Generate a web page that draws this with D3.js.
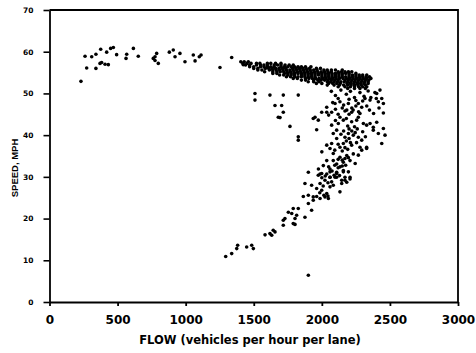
<!DOCTYPE html>
<html>
<head>
<meta charset="utf-8">
<script src="https://cdn.jsdelivr.net/npm/d3@7/dist/d3.min.js"></script>
<style>
  html, body { margin: 0; padding: 0; background: #fff; }
  svg { display: block; }
  .tick text { font-family: "DejaVu Sans", sans-serif; font-weight: bold; fill: #000; }
</style>
</head>
<body>
<svg id="chart" width="476" height="353"></svg>
<script>
// Speed-flow observations, [flow (veh/h/lane), speed (mph)]

// Uncongested, light-flow observations
const freeFlow = [
  [261,58.9],[231,52.9],[273,56.1],[310,58.8],[341,59.4],[341,56.0],[371,57.2],[383,57.4],
  [408,57.0],[432,56.9],[376,60.6],[420,59.9],[449,60.8],[469,61.0],[493,59.3],[567,59.4],
  [562,58.4],[616,60.8],[652,58.9],[775,58.8],[787,59.6],[762,58.4],[799,57.2],[775,57.9],
  [880,59.9],[909,60.4],[922,58.8],[958,59.6],[995,57.6],[1056,59.2],[1069,57.8],[1113,59.2],
  [1100,58.8],[1252,56.2],[1338,58.6],[1423,56.9],[1509,50.0],[1509,48.4]
];

// Near-capacity band: each row is [speed, flows observed at that speed]
const capacityRows = [
  [57.6, [1405,1430,1460]],
  [57.2, [1420,1450,1480,1520,1545,1600,1625,1660,1700]],
  [56.8, [1440,1470,1520,1550,1575,1600,1650,1675,1700,1730,1760,1790]],
  [56.4, [1470,1500,1550,1575,1600,1625,1650,1700,1725,1750,1775,1800,1825,1850,1880,1920]],
  [56.0, [1500,1530,1585,1610,1635,1660,1685,1710,1735,1785,1810,1835,1860,1885,1910,1960,1990]],
  [55.6, [1530,1560,1615,1640,1665,1690,1715,1740,1765,1790,1815,1840,1865,1890,1915,1940,1965,2015,2040,2070,2100,2150]],
  [55.2, [1580,1640,1670,1695,1720,1745,1770,1795,1820,1845,1870,1895,1920,1945,1970,1995,2020,2045,2070,2120,2145,2170,2195,2220]],
  [54.8, [1640,1670,1725,1750,1775,1800,1825,1850,1875,1900,1925,1950,1975,2000,2025,2050,2075,2100,2125,2150,2175,2200,2250]],
  [54.4, [1690,1720,1750,1775,1800,1850,1875,1900,1925,1950,1975,2000,2025,2050,2075,2100,2125,2150,2200,2225,2250,2275,2300,2330]],
  [54.0, [1740,1770,1800,1825,1850,1875,1900,1925,1950,2000,2025,2050,2075,2100,2125,2150,2175,2200,2225,2250,2275,2300,2325,2350]],
  [53.6, [1790,1820,1880,1905,1930,1955,1980,2005,2030,2055,2080,2105,2130,2155,2180,2205,2230,2255,2280,2305,2330,2360]],
  [53.2, [1850,1880,1940,1970,1995,2020,2045,2070,2095,2120,2170,2195,2220,2245,2270,2295,2320,2345]],
  [52.8, [1900,1940,1980,2040,2065,2090,2115,2140,2165,2190,2215,2240,2265,2290,2315,2340]],
  [52.4, [1960,2000,2050,2080,2110,2135,2185,2210,2235,2260,2285,2310,2340]],
  [52.0, [2040,2090,2130,2160,2190,2215,2240,2265,2290,2320]],
  [51.6, [2120,2170,2210,2240,2270,2300,2330]],
  [51.2, [2190,2240,2280,2320]]
];

// Scattered points between the capacity band and the congested branch
const transition = [
  [1619,49.6],[1717,49.6],[1827,49.6],[1656,47.1],[1705,47.1],[1717,45.5],[1693,44.2],
  [1766,42.1],[1827,39.6],[1827,38.8],[1937,44.0],[1974,43.6],[1999,45.5],[2036,46.7],
  [2097,47.6],[2133,48.0],[2195,47.6],[2183,46.0],[2268,47.6],[2293,46.7],[2317,48.8],
  [2354,48.4],[2415,48.0],[2440,48.8],[2452,47.6],[2403,50.0],[2427,50.8],
  [2070,50.5],[2100,49.5],[2140,50.8],[2180,49.8],[2210,50.5],[2240,49.0],[2280,50.2],
  [2310,49.3],[2340,50.6],[2360,49.0],[2390,50.2],[2400,48.8],[2250,48.3],[2200,48.6],
  [2160,47.2],[2120,48.8],[2080,47.8],[2300,48.2],[2330,47.0],[2220,46.5],[2270,45.6],
  [2350,46.0],[2380,45.2],[2420,46.5],[2100,46.2],[2050,44.8],[2180,44.0]
];

// Congested branch: speed falls as flow drops
const congested = [
  [1680,44.3],[1950,44.3],[1962,41.3],[2036,45.5],[2072,45.5],[2133,44.3],[2219,45.5],
  [2268,44.3],[2280,45.2],[2072,42.4],[2121,42.8],[2158,43.6],[2219,43.2],[2256,43.6],
  [2305,42.8],[2329,42.4],[2378,41.9],[2170,39.5],[2195,40.4],[2231,40.0],[2268,39.5],
  [2293,38.8],[2219,37.6],[2158,38.0],[2133,37.1],[2109,39.2],[2072,38.0],[2036,37.6],
  [2084,40.4],[2109,41.2],[2280,37.1],[2329,37.1],[2150,46.5],[2170,45.8],[2200,45.0],
  [2230,46.0],[2250,47.0],[2120,45.0],[2100,43.5],[2240,42.0],[2260,41.5],[2200,41.5],
  [2452,41.6],[2464,40.0],[2440,38.0],[2415,40.4],[2378,41.2],[2354,42.8],[2403,43.1],
  [2452,45.3],[2329,36.8],[2293,36.4],[2268,35.2],
  [2133,34.7],[2183,35.1],[2231,35.5],[2084,33.9],[2109,33.1],[2158,33.5],[2207,33.9],
  [2036,33.9],[2011,32.7],[2060,31.9],[2109,31.1],[2158,31.5],[2036,30.7],[2060,29.9],
  [2023,29.2],[2072,28.8],[1987,28.4],[2109,29.9],[2170,29.9],[2207,29.5],[1975,31.9],
  [1987,30.7],[2134,32.4],[2084,35.6],[2190,36.6],[2245,33.2],
  [2120,34.2],[2150,34.0],[2170,34.4],[2195,34.6],[2095,32.8],[2120,32.2],[2150,32.6],
  [2175,32.8],[2050,32.4],[2075,31.4],[2090,30.4],[2130,30.3],[2000,29.8],[2025,30.2],
  [2045,28.6],[2010,27.8],[1985,26.2],[2015,25.6],[2045,25.4],[2180,38.6],[2200,39.2],
  [2245,40.6],[2255,38.2],[2210,38.2],[2190,42.2],[2160,41.0],[2140,40.2],[2120,37.8],
  [2095,36.4],[2150,36.2],[2170,37.0],[2220,41.0],[2300,40.8],[2320,39.6],[2060,36.8],
  [2000,36.0],
  [1901,31.1],[1974,30.4],[1999,30.8],[2060,31.2],[2109,30.8],[2158,31.2],[2195,31.2],
  [2207,29.9],[2183,28.7],[2146,29.2],[2097,29.9],[2060,29.9],
  [1962,27.2],[1999,26.8],[2036,26.0],[2023,25.2],[1987,24.8],[1962,25.3],[2060,27.6],
  [2084,28.0],[2048,24.8],[2133,26.4],[2146,28.4],[2170,29.2],[1937,25.2],[1925,28.0],
  [1876,28.4],[1901,25.6],[1937,24.4],[1864,25.3],[1925,22.0],[1901,23.6],
  [1827,22.4],[1790,22.4],[1779,21.2],[1815,20.8],[1803,20.0],[1754,21.5],[1729,20.0],
  [1717,19.6],[1790,18.8],[1876,20.3],[1717,18.4],[1643,17.2],[1656,16.8],[1619,16.4],
  [1583,16.1],[1632,16.0],[1803,18.6],
  [1294,10.9],[1338,11.6],[1375,12.8],[1382,13.6],[1448,13.2],[1485,13.6],[1497,12.8],
  [1901,6.4]
];

const xTicks = [0, 500, 1000, 1500, 2000, 2500, 3000];
const yTicks = [0, 10, 20, 30, 40, 50, 60, 70];

const svg = d3.select("#chart");
const plotLeft = 49.5, plotRight = 458, plotTop = 10, plotBottom = 302;

const x = d3.scaleLinear().domain([0, 3000]).range([plotLeft, plotRight]);
const y = d3.scaleLinear().domain([0, 70]).range([plotBottom, plotTop]);

// Collect all observations
const bandPoints = capacityRows.flatMap(([s, flows]) => flows.map(f => [f, s]));
const points = [].concat(freeFlow, bandPoints, transition, congested);

// Frame: top and right border
svg.append("path")
  .attr("d", `M${plotLeft},${plotTop}H${plotRight}V${plotBottom}`)
  .attr("fill", "none").attr("stroke", "#000").attr("stroke-width", 1.8);

// X axis
const gx = svg.append("g")
  .attr("transform", `translate(0,${plotBottom})`)
  .call(d3.axisBottom(x).tickValues(xTicks).tickFormat(d3.format("d"))
        .tickSize(4).tickSizeOuter(0).tickPadding(9.5));
gx.select(".domain").attr("stroke-width", 1.8);
gx.selectAll(".tick line").attr("stroke-width", 1.8);
gx.selectAll(".tick text").attr("font-size", 12);

// Y axis
const gy = svg.append("g")
  .attr("transform", `translate(${plotLeft},0)`)
  .call(d3.axisLeft(y).tickValues(yTicks)
        .tickSize(6).tickSizeOuter(0).tickPadding(10));
gy.select(".domain").attr("stroke-width", 1.8);
gy.selectAll(".tick line").attr("stroke-width", 1.6);
gy.selectAll(".tick text").attr("font-size", 7.5);

// Observations
svg.append("g")
  .selectAll("circle")
  .data(points)
  .join("circle")
  .attr("cx", d => x(d[0]))
  .attr("cy", d => y(d[1]))
  .attr("r", 1.8)
  .attr("fill", "#000");

// Axis titles
svg.append("text")
  .attr("x", 250).attr("y", 344)
  .attr("text-anchor", "middle")
  .attr("font-family", "DejaVu Sans, sans-serif")
  .attr("font-weight", "bold")
  .attr("font-size", 11.5)
  .attr("fill", "#000")
  .text("FLOW (vehicles per hour per lane)");

svg.append("text")
  .attr("transform", "translate(18,168) rotate(-90)")
  .attr("text-anchor", "middle")
  .attr("font-family", "Liberation Sans, Arial, sans-serif")
  .attr("font-weight", "bold")
  .attr("font-size", 9.5)
  .attr("fill", "#000")
  .text("SPEED, MPH");
</script>
</body>
</html>
